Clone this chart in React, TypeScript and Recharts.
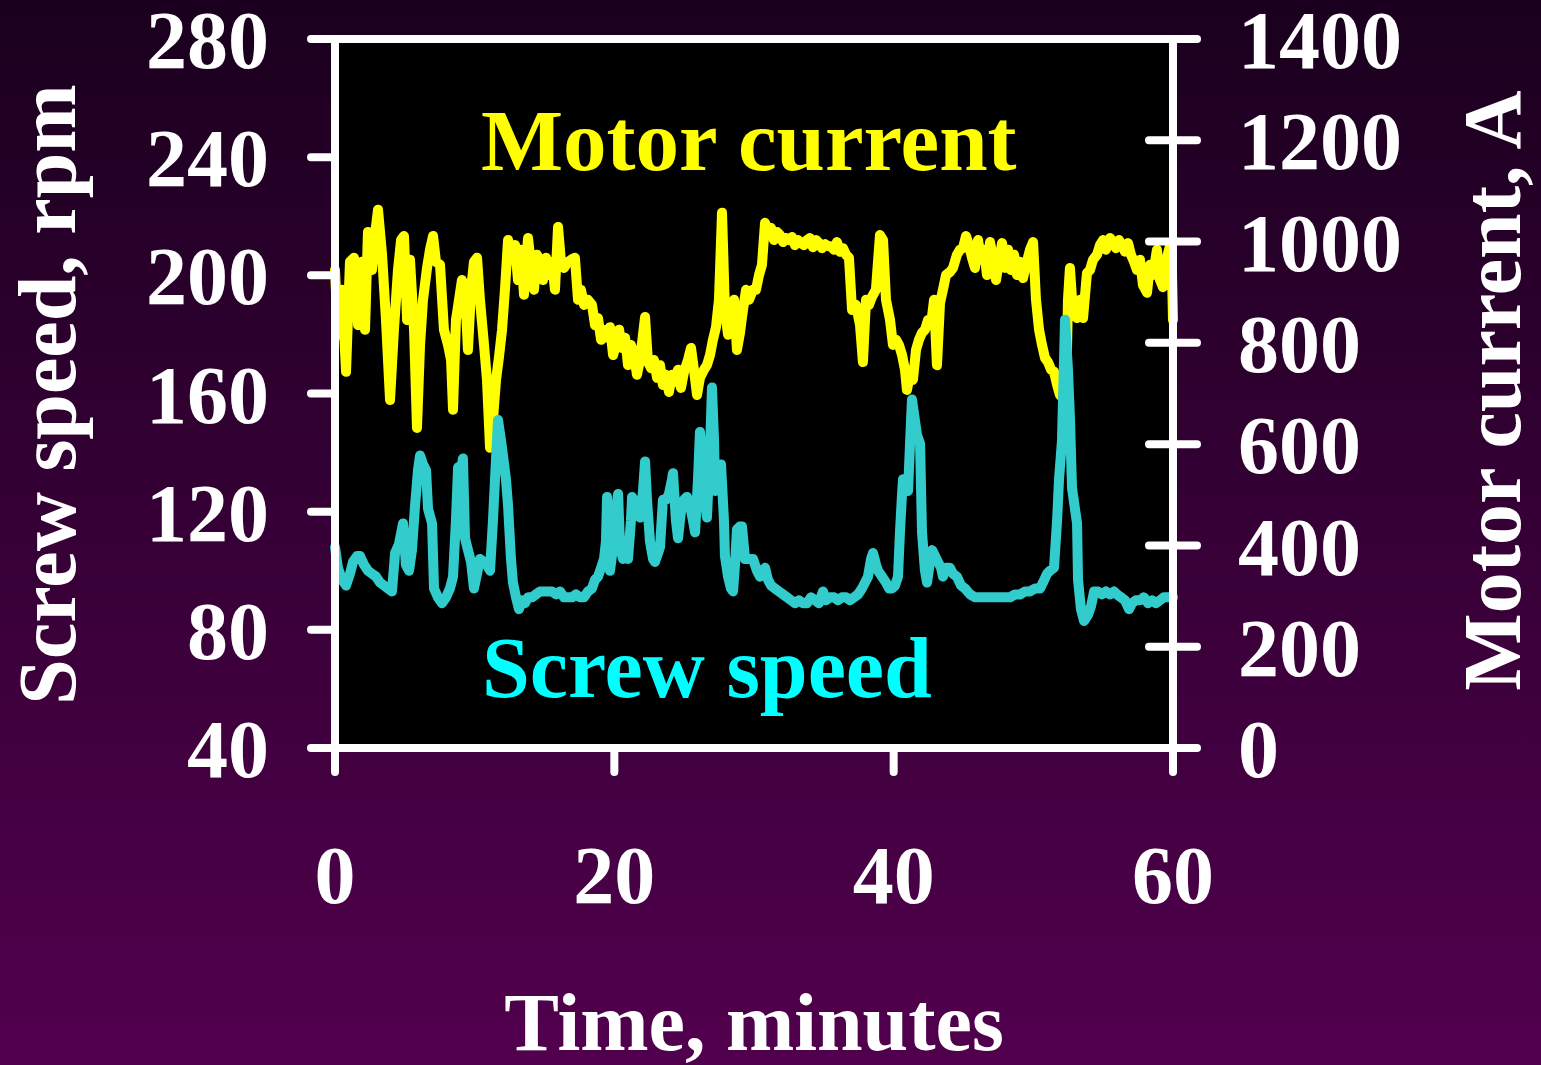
import {
  Label,
  Line,
  LineChart,
  ReferenceArea,
  ReferenceLine,
  XAxis,
  YAxis,
} from "recharts";

// motor current trace (A) vs time (min)
const currentMinutes = [
  0, 0.21, 0.5, 0.79, 1.07, 1.36, 1.65, 1.93, 2.15, 2.36,
  2.65, 2.86, 3.08, 3.37, 3.65, 3.94, 4.22, 4.51, 4.73, 4.94,
  5.16, 5.37, 5.66, 5.87, 6.09, 6.3, 6.59, 6.8, 7.02, 7.23,
  7.52, 7.8, 8.09, 8.31, 8.45, 8.66, 8.88, 9.09, 9.31, 9.52,
  9.74, 9.95, 10.17, 10.38, 10.67, 10.88, 11.1, 11.31, 11.53, 11.74,
  11.96, 12.17, 12.39, 12.67, 12.89, 13.1, 13.32, 13.53, 13.82, 14.03,
  14.25, 14.46, 14.68, 14.89, 15.11, 15.32, 15.54, 15.75, 15.97, 16.18,
  16.4, 16.68, 16.9, 17.18, 17.4, 17.61, 17.83, 18.11, 18.4, 18.62,
  18.83, 19.05, 19.26, 19.48, 19.69, 19.91, 20.12, 20.34, 20.55, 20.77,
  20.98, 21.19, 21.41, 21.62, 21.84, 22.05, 22.2, 22.41, 22.63, 22.84,
  23.06, 23.27, 23.48, 23.7, 23.91, 24.13, 24.34, 24.56, 24.77, 24.99,
  25.27, 25.49, 25.7, 25.92, 26.13, 26.42, 26.63, 26.85, 27.06, 27.28,
  27.49, 27.71, 27.92, 28.14, 28.35, 28.57, 28.78, 29.0, 29.21, 29.43,
  29.64, 29.93, 30.14, 30.36, 30.57, 30.79, 31.0, 31.22, 31.43, 31.65,
  31.86, 32.08, 32.29, 32.51, 32.72, 32.94, 33.15, 33.36, 33.58, 33.79,
  34.01, 34.22, 34.44, 34.65, 34.87, 35.08, 35.3, 35.51, 35.73, 35.94,
  36.16, 36.37, 36.59, 36.8, 37.02, 37.3, 37.59, 37.8, 38.02, 38.23,
  38.45, 38.73, 39.02, 39.24, 39.45, 39.74, 39.95, 40.17, 40.38, 40.6,
  40.81, 40.95, 41.17, 41.38, 41.6, 41.81, 42.03, 42.24, 42.46, 42.67,
  42.89, 43.1, 43.32, 43.53, 43.75, 44.03, 44.25, 44.53, 44.75, 44.96,
  45.18, 45.39, 45.61, 45.82, 46.04, 46.25, 46.47, 46.68, 46.9, 47.11,
  47.33, 47.54, 47.76, 47.97, 48.19, 48.4, 48.62, 48.83, 49.05, 49.26,
  49.48, 49.76, 49.98, 50.19, 50.41, 50.62, 50.84, 51.05, 51.27, 51.48,
  51.7, 51.91, 52.12, 52.34, 52.48, 52.62, 52.84, 53.13, 53.34, 53.56,
  53.84, 54.06, 54.27, 54.56, 54.77, 54.99, 55.2, 55.49, 55.7, 55.92,
  56.13, 56.35, 56.56, 56.78, 56.99, 57.21, 57.42, 57.64, 57.85, 58.14,
  58.35, 58.57, 58.85, 59.07, 59.28, 59.5, 59.71, 59.88, 60,
];
const currentAmps = [
  944, 816, 905, 743, 960, 968, 835, 960, 826, 1019,
  944, 1013, 1063, 974, 845, 687, 826, 944, 1003, 1011,
  845, 964, 826, 632, 796, 885, 948, 984, 1011, 960,
  954, 826, 796, 766, 668, 845, 885, 924, 905, 786,
  905, 960, 968, 885, 796, 727, 593, 648, 727, 772,
  826, 905, 1003, 964, 993, 924, 984, 895, 1007, 954,
  905, 974, 960, 924, 968, 934, 960, 905, 1029, 960,
  948, 960, 964, 968, 885, 905, 875, 885, 875, 835,
  849, 806, 826, 810, 831, 776, 796, 826, 790, 810,
  756, 796, 776, 737, 766, 816, 851, 762, 750, 766,
  731, 756, 717, 737, 703, 737, 723, 747, 711, 743,
  766, 790, 747, 697, 731, 747, 756, 776, 806, 831,
  885, 1057, 865, 816, 845, 885, 786, 820, 865, 905,
  885, 905, 905, 934, 954, 1037, 1023, 1027, 1003, 1019,
  1013, 999, 1007, 1003, 1009, 993, 1003, 997, 993, 1003,
  1007, 989, 1003, 997, 987, 995, 991, 991, 984, 999,
  980, 987, 974, 968, 865, 875, 835, 762, 885, 875,
  891, 905, 1013, 1003, 885, 845, 796, 806, 796, 776,
  747, 707, 737, 727, 786, 806, 820, 826, 845, 835,
  885, 756, 879, 905, 934, 940, 948, 974, 984, 987,
  1011, 993, 968, 948, 1003, 964, 984, 934, 999, 968,
  924, 960, 997, 948, 984, 944, 974, 934, 960, 928,
  954, 984, 999, 885, 826, 796, 770, 762, 747, 743,
  717, 697, 691, 687, 885, 948, 859, 849, 885, 849,
  938, 944, 964, 974, 993, 1003, 984, 1007, 999, 987,
  1003, 993, 980, 997, 974, 960, 944, 964, 914, 899,
  954, 934, 984, 924, 910, 960, 984, 999, 845,
];

// screw speed trace (rpm) vs time (min)
const speedMinutes = [
  0, 0.21, 0.5, 0.79, 1.07, 1.29, 1.58, 1.79, 2.08, 2.36,
  2.65, 2.94, 3.22, 3.51, 3.79, 4.08, 4.3, 4.58, 4.87, 5.08,
  5.3, 5.51, 5.73, 5.94, 6.09, 6.3, 6.52, 6.66, 6.95, 7.09,
  7.37, 7.66, 7.95, 8.23, 8.45, 8.66, 8.81, 9.02, 9.16, 9.31,
  9.52, 9.74, 9.95, 10.17, 10.38, 10.67, 10.88, 11.1, 11.31, 11.53,
  11.67, 11.89, 12.03, 12.24, 12.39, 12.6, 12.74, 12.96, 13.17, 13.39,
  13.6, 13.82, 14.1, 14.39, 14.68, 14.96, 15.25, 15.54, 15.82, 16.11,
  16.4, 16.68, 16.97, 17.26, 17.54, 17.83, 18.11, 18.4, 18.62, 18.83,
  19.05, 19.26, 19.4, 19.48, 19.62, 19.69, 19.91, 20.12, 20.27, 20.41,
  20.62, 20.84, 20.98, 21.19, 21.27, 21.48, 21.69, 21.84, 22.05, 22.2,
  22.34, 22.55, 22.77, 22.91, 23.13, 23.27, 23.48, 23.7, 23.91, 24.13,
  24.2, 24.41, 24.56, 24.77, 24.99, 25.2, 25.42, 25.63, 25.78, 25.99,
  26.13, 26.35, 26.49, 26.63, 26.85, 26.99, 27.14, 27.21, 27.42, 27.64,
  27.85, 27.92, 28.14, 28.35, 28.5, 28.64, 28.78, 29.0, 29.14, 29.36,
  29.64, 29.93, 30.21, 30.43, 30.64, 30.79, 31.0, 31.22, 31.5, 31.79,
  32.08, 32.36, 32.65, 32.94, 33.22, 33.51, 33.8, 34.08, 34.37, 34.65,
  34.94, 35.15, 35.44, 35.73, 36.01, 36.3, 36.59, 36.87, 37.16, 37.45,
  37.73, 37.95, 38.16, 38.38, 38.52, 38.74, 38.88, 39.17, 39.45, 39.67,
  39.88, 40.1, 40.31, 40.45, 40.6, 40.67, 40.88, 41.03, 41.17, 41.31,
  41.46, 41.67, 41.89, 42.03, 42.24, 42.39, 42.6, 42.75, 42.96, 43.17,
  43.39, 43.53, 43.75, 44.03, 44.25, 44.53, 44.82, 45.11, 45.47, 45.82,
  46.18, 46.54, 46.9, 47.26, 47.61, 47.97, 48.33, 48.69, 49.05, 49.4,
  49.76, 50.12, 50.48, 50.69, 50.98, 51.19, 51.48, 51.7, 51.84, 52.05,
  52.27, 52.48, 52.62, 52.77, 52.98, 53.13, 53.2, 53.41, 53.63, 53.91,
  54.13, 54.35, 54.63, 54.92, 55.2, 55.49, 55.78, 55.99, 56.28, 56.56,
  56.85, 57.06, 57.35, 57.64, 57.92, 58.21, 58.5, 58.78, 59.07, 59.35,
  59.64, 60,
];
const speedRpm = [
  108, 101, 97, 95, 99, 103, 105, 105, 102, 100,
  99, 98, 96, 95, 94, 93, 106, 109, 116, 102,
  100, 107, 122, 134, 139, 136, 134, 121, 116, 94,
  91, 89, 91, 94, 98, 117, 135, 134, 138, 111,
  107, 103, 94, 99, 104, 103, 102, 100, 117, 138,
  151, 144, 139, 131, 122, 104, 96, 91, 87, 90,
  89, 91, 91, 92, 93, 93, 93, 93, 92, 93,
  91, 91, 91, 92, 91, 91, 93, 94, 97, 98,
  101, 104, 110, 125, 110, 100, 108, 120, 126, 108,
  104, 108, 104, 117, 125, 122, 119, 118, 127, 137,
  124, 110, 104, 103, 106, 108, 124, 124, 126, 131,
  133, 117, 111, 120, 124, 125, 122, 117, 113, 131,
  147, 134, 124, 118, 141, 162, 144, 127, 130, 136,
  117, 105, 98, 94, 93, 102, 114, 115, 115, 104,
  104, 104, 100, 98, 100, 101, 97, 95, 94, 93,
  92, 91, 90, 89, 90, 89, 89, 91, 90, 89,
  93, 90, 91, 91, 90, 91, 91, 90, 91, 92,
  94, 96, 98, 104, 106, 102, 100, 98, 96, 94,
  94, 95, 98, 113, 126, 131, 128, 127, 143, 158,
  153, 146, 143, 113, 100, 96, 103, 107, 105, 103,
  101, 98, 101, 101, 99, 98, 95, 94, 92, 91,
  91, 91, 91, 91, 91, 91, 91, 92, 92, 93,
  93, 94, 94, 96, 99, 100, 101, 117, 131, 144,
  185, 168, 152, 128, 121, 116, 97, 87, 83, 85,
  88, 93, 93, 92, 93, 92, 93, 92, 91, 90,
  87, 89, 90, 90, 91, 89, 90, 89, 90, 91,
  91, 91,
];

const timeTicks = [0, 20, 40, 60];
const speedTicks = [40, 80, 120, 160, 200, 240, 280];
const currentTicks = [0, 200, 400, 600, 800, 1000, 1200, 1400];

const currentData = currentMinutes.map((t, i) => ({ t, amps: currentAmps[i] }));
const speedData = speedMinutes.map((t, i) => ({ t, rpm: speedRpm[i] }));

const FONT = "'Liberation Serif', 'Times New Roman', Times, serif";
const TICK = 24;
const RIGHT_MARGIN = 41;
const white = { stroke: "#fff", strokeWidth: 8, strokeLinecap: "round" as const };
const tickText = { fill: "#fff", fontSize: 82, fontWeight: 700, fontFamily: FONT };

// right axis ticks cross the axis line, so draw the inner half here
function RightTick(props: any) {
  const { x, y, payload } = props;
  const axisX = x - TICK - RIGHT_MARGIN;
  return (
    <g>
      <line x1={axisX - TICK} y1={y} x2={axisX} y2={y} {...white} />
      <text x={x} y={y} dy="0.355em" textAnchor="start" {...tickText}>
        {payload.value}
      </text>
    </g>
  );
}

function Title({ text, x, y, rotate }: { text: string; x: number; y: number; rotate?: boolean }) {
  return (
    <text
      transform={`translate(${x}, ${y})${rotate ? " rotate(-90)" : ""}`}
      textAnchor="middle"
      fill="#fff"
      fontSize={82}
      fontWeight={700}
      fontFamily={FONT}
    >
      {text}
    </text>
  );
}

// in-plot series names, placed relative to the plot box
function SeriesNames({ viewBox }: any) {
  const x = viewBox?.x ?? 335;
  const y = viewBox?.y ?? 39;
  return (
    <g fontFamily={FONT} fontWeight={700}>
      <text x={x + 146} y={y + 131} fontSize={87} fill="#ffff00">
        Motor current
      </text>
      <text x={x + 147} y={y + 658} fontSize={86} fill="#00ffff">
        Screw speed
      </text>
    </g>
  );
}

export default function App() {
  return (
    <div
      style={{
        position: "absolute",
        left: 0,
        top: 0,
        width: 1541,
        height: 1065,
        background: "linear-gradient(to bottom, #1a001e, #52004e)",
      }}
    >
      <LineChart width={1541} height={1065} margin={{ top: 39, right: 0, bottom: 0, left: 0 }}>
        <XAxis
          dataKey="t"
          type="number"
          domain={[0, 60]}
          ticks={timeTicks}
          interval={0}
          height={317}
          tickSize={TICK}
          tickMargin={73}
          axisLine={{ stroke: "#fff", strokeWidth: 8 }}
          tickLine={white}
          tick={tickText}
        >
          <Label
            content={({ viewBox }: any) => (
              <Title
                text="Time, minutes"
                x={(viewBox?.x ?? 335) + (viewBox?.width ?? 838) / 2}
                y={(viewBox?.y ?? 748) + 302}
              />
            )}
          />
        </XAxis>
        <YAxis
          yAxisId="left"
          orientation="left"
          domain={[40, 280]}
          ticks={speedTicks}
          interval={0}
          width={335}
          tickSize={TICK}
          tickMargin={42}
          axisLine={{ stroke: "#fff", strokeWidth: 8 }}
          tickLine={white}
          tick={tickText}
        >
          <Label
            content={({ viewBox }: any) => (
              <Title
                text="Screw speed, rpm"
                x={(viewBox?.x ?? 0) + 75}
                y={(viewBox?.y ?? 39) + (viewBox?.height ?? 709) / 2 + 1}
                rotate
              />
            )}
          />
        </YAxis>
        <YAxis
          yAxisId="right"
          orientation="right"
          domain={[0, 1400]}
          ticks={currentTicks}
          interval={0}
          width={368}
          tickSize={TICK}
          tickMargin={RIGHT_MARGIN}
          axisLine={{ stroke: "#fff", strokeWidth: 8 }}
          tickLine={white}
          tick={<RightTick />}
        >
          <Label
            content={({ viewBox }: any) => (
              <Title
                text="Motor current, A"
                x={(viewBox?.x ?? 1173) + 347}
                y={(viewBox?.y ?? 39) + (viewBox?.height ?? 709) / 2 - 3}
                rotate
              />
            )}
          />
        </YAxis>
        <ReferenceArea
          yAxisId="left"
          x1={0}
          x2={60}
          y1={40}
          y2={280}
          fill="#000"
          fillOpacity={1}
          stroke="none"
          label={<Label content={SeriesNames} />}
        />
        <ReferenceLine yAxisId="left" y={280} stroke="#fff" strokeWidth={8} />
        <Line
          data={currentData}
          dataKey="amps"
          yAxisId="right"
          type="linear"
          stroke="#ffff00"
          strokeWidth={10}
          strokeLinejoin="round"
          strokeLinecap="round"
          dot={false}
          activeDot={false}
          isAnimationActive={false}
        />
        <Line
          data={speedData}
          dataKey="rpm"
          yAxisId="left"
          type="linear"
          stroke="#33cccc"
          strokeWidth={10}
          strokeLinejoin="round"
          strokeLinecap="round"
          dot={false}
          activeDot={false}
          isAnimationActive={false}
        />
      </LineChart>
    </div>
  );
}
